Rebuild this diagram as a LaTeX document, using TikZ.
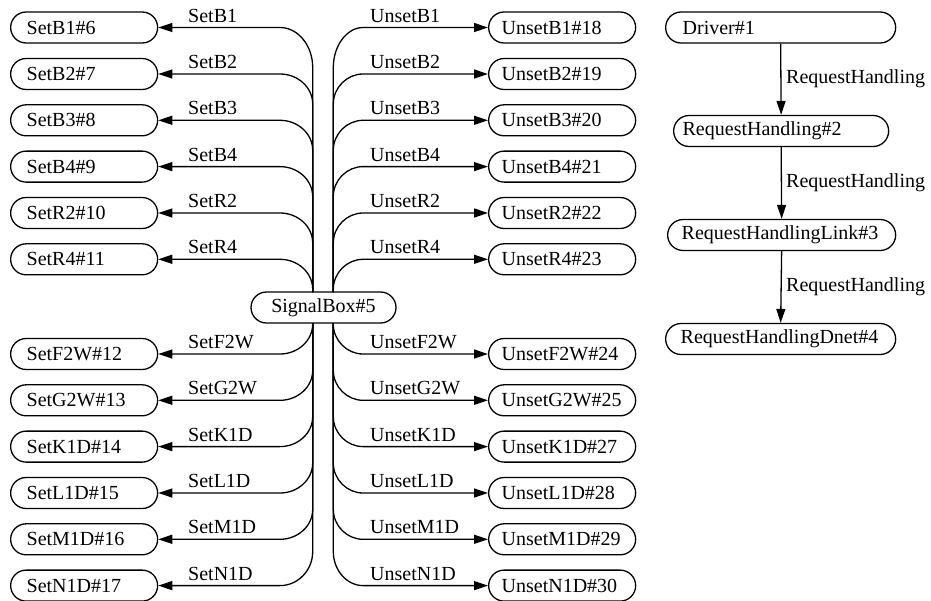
\documentclass[tikz,border=0pt]{standalone}
\usepackage{fontspec}
\setmainfont{Liberation Serif}
\usetikzlibrary{arrows.meta}
\begin{document}
\begin{tikzpicture}[x=1pt,y=-1pt,
  every node/.style={font=\fontsize{20}{24}\selectfont},
  state/.style={draw, line width=1.3pt, rounded corners=15.5pt,
    minimum height=31pt, inner ysep=0pt, anchor=west, align=left},
  setbox/.style={state, text width=115pt, inner xsep=16pt},
  unsetbox/.style={state, text width=121pt, inner xsep=13pt},
  flow/.style={line width=1.3pt, -{Triangle[length=14pt,width=9pt]}},
  elabel/.style={anchor=base west, inner sep=0pt},
]
\useasboundingbox (0,0) rectangle (931,600);

% central hub
\node[state, anchor=center, align=center, minimum width=145pt, inner xsep=0pt]
  (sb) at (323.5,307.5) {SignalBox\#5};
\coordinate (tl) at (312.7,292);
\coordinate (tr) at (333.3,292);
\coordinate (bl) at (312.7,323);
\coordinate (br) at (333.3,323);

% upper fan: Set* to the left, Unset* to the right
\foreach \i/\lab/\num/\ulab/\unum/\y/\h in {
  1/SetB1/6/UnsetB1/18/27.5/40,
  2/SetB2/7/UnsetB2/19/74/30,
  3/SetB3/8/UnsetB3/20/120.3/30,
  4/SetB4/9/UnsetB4/21/166.6/30,
  5/SetR2/10/UnsetR2/22/213/30,
  6/SetR4/11/UnsetR4/23/259.3/30} {
  \node[setbox] (sl\i) at (10,\y) {\lab\#\num};
  \node[unsetbox] (ur\i) at (488,\y) {\ulab\#\unum};
  \draw[flow] (tl) -- (312.7,\y+\h)
    .. controls (312.7,\y+0.45*\h) and (298,\y) .. (280,\y) -- (sl\i.east);
  \draw[flow] (tr) -- (333.3,\y+\h)
    .. controls (333.3,\y+0.45*\h) and (347,\y) .. (363,\y) -- (ur\i.west);
  \node[elabel] (tsl\i) at (188,\y-5.5) {\lab};
  \node[elabel] (tul\i) at (370,\y-5.5) {\ulab};
}

% lower fan
\foreach \i/\lab/\num/\ulab/\unum/\y/\h in {
  1/SetF2W/12/UnsetF2W/24/354/30,
  2/SetG2W/13/UnsetG2W/25/400.3/30,
  3/SetK1D/14/UnsetK1D/27/446.6/30,
  4/SetL1D/15/UnsetL1D/28/493/30,
  5/SetM1D/16/UnsetM1D/29/539.3/30,
  6/SetN1D/17/UnsetN1D/30/585.6/34} {
  \node[setbox] (bsl\i) at (10,\y) {\lab\#\num};
  \node[unsetbox] (bur\i) at (488,\y) {\ulab\#\unum};
  \draw[flow] (bl) -- (312.7,\y-\h)
    .. controls (312.7,\y-0.45*\h) and (298,\y) .. (280,\y) -- (bsl\i.east);
  \draw[flow] (br) -- (333.3,\y-\h)
    .. controls (333.3,\y-0.45*\h) and (347,\y) .. (363,\y) -- (bur\i.west);
  \node[elabel] (bsll\i) at (188,\y-5.5) {\lab};
  \node[elabel] (bull\i) at (370,\y-5.5) {\ulab};
}

% request handling chain
\node[state, text width=196pt, inner xsep=17pt] (d1) at (665,27.5) {Driver\#1};
\node[state, text width=197pt, inner xsep=9pt] (d2) at (673,131) {RequestHandling\#2};
\node[state, text width=200pt, inner xsep=14pt] (d3) at (667,235) {RequestHandlingLink\#3};
\node[state, text width=200pt, inner xsep=15pt] (d4) at (665,339) {RequestHandlingDnet\#4};
\draw[flow] (d1.south) -- (d2.north);
\draw[flow] (d2.south) -- (d3.north);
\draw[flow] (d3.south) -- (d4.north);
\node[elabel] (r1) at (786,83.5) {RequestHandling};
\node[elabel] (r2) at (786,187.5) {RequestHandling};
\node[elabel] (r3) at (786,291.5) {RequestHandling};
\end{tikzpicture}
\end{document}
